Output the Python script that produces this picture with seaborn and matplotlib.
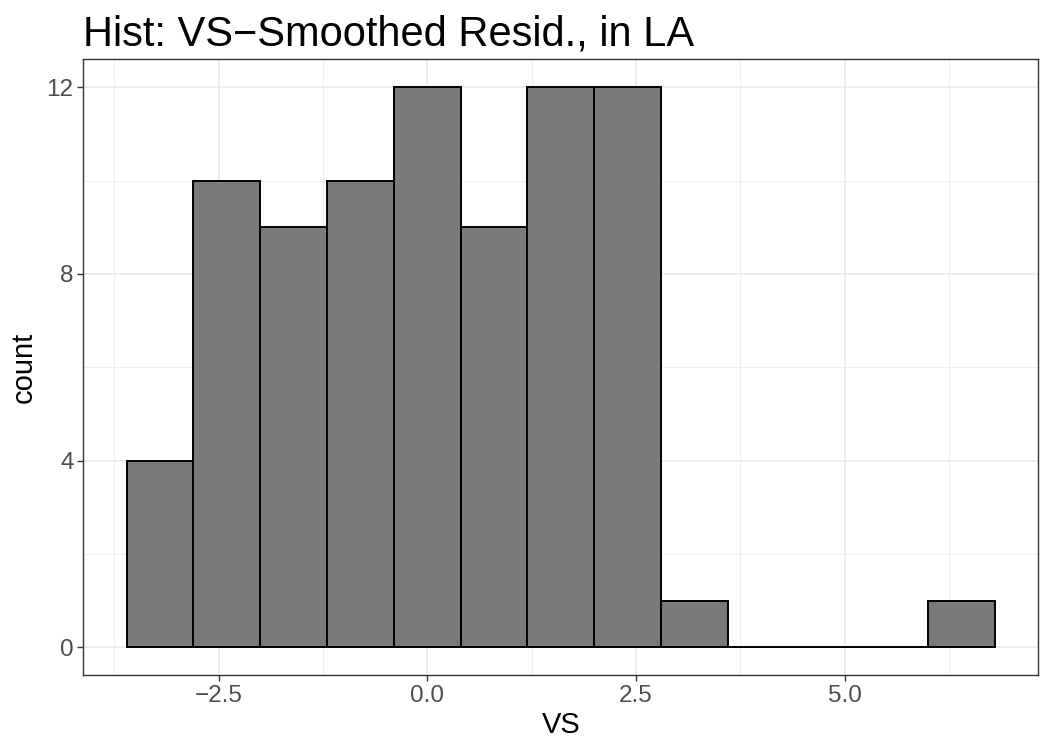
import matplotlib
matplotlib.use("Agg")
import matplotlib.pyplot as plt
import seaborn as sns
import numpy as np

# histogram bins (edges) and counts
bin_edges = [-3.6, -2.8, -2.0, -1.2, -0.4, 0.4, 1.2, 2.0, 2.8, 3.6, 4.4, 5.2, 6.0, 6.8]
counts = [4, 10, 9, 10, 12, 9, 12, 12, 1, 0, 0, 0, 1]
bin_centers = [(a + b) / 2 for a, b in zip(bin_edges[:-1], bin_edges[1:])]

x_ticks = [-2.5, 0.0, 2.5, 5.0]
x_minor = [-3.75, -1.25, 1.25, 3.75, 6.25]
y_ticks = [0, 4, 8, 12]
y_minor = [2, 6, 10]

sns.set_theme(style="white")
plt.rcParams['font.family'] = ['Liberation Sans', 'DejaVu Sans']

fig = plt.figure(figsize=(10.5, 7.5), dpi=100)
ax = fig.add_axes([0.0793, 0.0996, 0.9096, 0.8214])

sns.histplot(x=bin_centers, weights=counts, bins=bin_edges, ax=ax,
             color="#7a7a7a", edgecolor="black", linewidth=1.4, alpha=1.0)

span = bin_edges[-1] - bin_edges[0]
ax.set_xlim(bin_edges[0] - 0.05 * span, bin_edges[-1] + 0.05 * span)
ax.set_ylim(-0.05 * max(counts), max(counts) * 1.05)

ax.set_xticks(x_ticks)
ax.set_xticklabels([f"{v:.1f}".replace("-", "\u2212") for v in x_ticks])
ax.set_xticks(x_minor, minor=True)
ax.set_yticks(y_ticks)
ax.set_yticklabels([str(v) for v in y_ticks])
ax.set_yticks(y_minor, minor=True)

ax.grid(True, which="major", color="#ebebeb", linewidth=1.2)
ax.grid(True, which="minor", color="#ebebeb", linewidth=0.6)
ax.set_axisbelow(True)

for s in ax.spines.values():
    s.set_color("#333333")
    s.set_linewidth(1.0)

ax.tick_params(axis="both", which="major", length=4, width=1.0, color="#333333",
               labelsize=17.5, labelcolor="#4d4d4d", pad=3, bottom=True, left=True)
ax.tick_params(axis="both", which="minor", length=0)

ax.set_xlabel("VS", fontsize=21, color="black", labelpad=3)
ax.set_ylabel("count", fontsize=21, color="black", labelpad=6)
ax.set_title("Hist: VS\u2212Smoothed Resid., in LA", fontsize=30, loc="left",
             color="black", pad=10)

fig.savefig("out.png", dpi=100)
